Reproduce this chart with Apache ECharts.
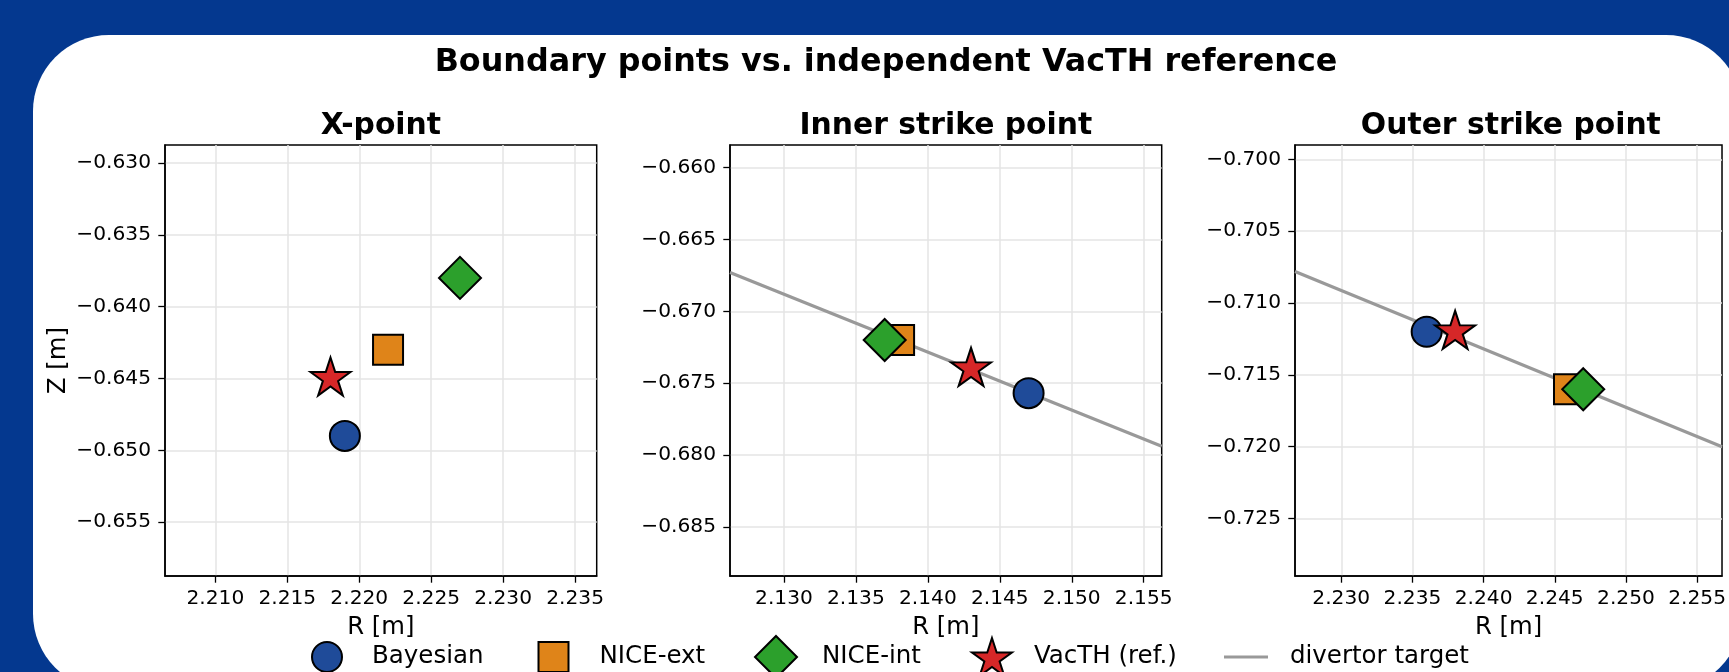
<!DOCTYPE html>
<html><head><meta charset="utf-8">
<script src="https://cdn.jsdelivr.net/npm/echarts@6/dist/echarts.min.js"></script>
<style>
html,body{margin:0;padding:0;background:#04388f;width:1729px;height:672px;overflow:hidden;}
#card{position:absolute;left:33px;top:35px;width:1709px;height:655px;background:#fff;border-radius:76px;}
#chart{position:absolute;left:0;top:0;width:1729px;height:672px;}
</style></head><body><div id="card"></div><div id="chart"></div>
<script>
// ---- data ----
const methods = ['Bayesian', 'NICE-ext', 'NICE-int', 'VacTH (ref.)'];
const panelTitles = ['X-point', 'Inner strike point', 'Outer strike point'];
const xpointR = [2.219, 2.222, 2.227, 2.218];
const xpointZ = [-0.649, -0.643, -0.638, -0.645];
const innerR = [2.147, 2.138, 2.137, 2.143];
const innerZ = [-0.6757, -0.672, -0.672, -0.674];
const outerR = [2.236, 2.246, 2.247, 2.238];
const outerZ = [-0.712, -0.716, -0.716, -0.712];
const innerTargetR = [2.12625, 2.15625];
const innerTargetZ = [-0.6673, -0.6794];
const outerTargetR = [2.22675, 2.25675];
const outerTargetZ = [-0.7078, -0.7200];
const xpointRRange = [2.2065, 2.2365];
const xpointZRange = [-0.65875, -0.62875];
const innerRRange = [2.12625, 2.15625];
const innerZRange = [-0.688425, -0.658425];
const outerRRange = [2.22675, 2.25675];
const outerZRange = [-0.729, -0.699];
const xpointRTicks = [2.210, 2.215, 2.220, 2.225, 2.230, 2.235];
const xpointZTicks = [-0.655, -0.650, -0.645, -0.640, -0.635, -0.630];
const innerRTicks = [2.130, 2.135, 2.140, 2.145, 2.150, 2.155];
const innerZTicks = [-0.685, -0.680, -0.675, -0.670, -0.665, -0.660];
const outerRTicks = [2.230, 2.235, 2.240, 2.245, 2.250, 2.255];
const outerZTicks = [-0.725, -0.720, -0.715, -0.710, -0.705, -0.700];

// ---- styles ----
const FONT = 'DejaVu Sans';
const colors = ['#1f4b99', '#df8419', '#2ca02c', '#d62728'];
const starPath = 'path://M0,-100L22.45,-30.9L95.1,-30.9L36.33,11.8L58.78,80.9L0,38.2L-58.78,80.9L-36.33,11.8L-95.1,-30.9L-22.45,-30.9Z';
const symbols = ['circle', 'rect', 'diamond', starPath];
const sizes = [30, 30, 42, [40, 38]];
const offsets = [[0, 0], [0, 0], [0, 0], [0, -1.9]];

const panels = [
  {R: xpointR, Z: xpointZ, xr: xpointRRange, yr: xpointZRange, xt: xpointRTicks, yt: xpointZTicks, tR: null, tZ: null},
  {R: innerR, Z: innerZ, xr: innerRRange, yr: innerZRange, xt: innerRTicks, yt: innerZTicks, tR: innerTargetR, tZ: innerTargetZ},
  {R: outerR, Z: outerZ, xr: outerRRange, yr: outerZRange, xt: outerRTicks, yt: outerZTicks, tR: outerTargetR, tZ: outerTargetZ}
];
const gridLefts = [165, 730, 1295];
const GW = 431.7, GT = 145, GH = 431;
const TICK_FS = 20.2, LABEL_FS = 24.3, TITLE_FS = 29.8, SUP_FS = 31.8, LEG_FS = 24.5;

const fmt = v => (v < 0 ? '\u2212' : '') + Math.abs(v).toFixed(3);

const grids = [], xAxes = [], yAxes = [], series = [], titles = [];
titles.push({text: 'Boundary points vs. independent VacTH reference', left: 886, top: 46.5, textAlign: 'center', padding: 0,
  textStyle: {fontFamily: FONT, fontSize: SUP_FS, fontWeight: 'bold', color: '#000'}});

panels.forEach((p, i) => {
  grids.push({left: gridLefts[i], top: GT, width: GW, height: GH, show: true, borderColor: '#000', borderWidth: 1.5, backgroundColor: 'transparent'});
  titles.push({text: panelTitles[i], left: gridLefts[i] + GW / 2, top: 111, textAlign: 'center', padding: 0,
    textStyle: {fontFamily: FONT, fontSize: TITLE_FS, fontWeight: 'bold', color: '#000'}});
  xAxes.push({
    type: 'value', gridIndex: i, min: p.xr[0], max: p.xr[1],
    name: 'R [m]', nameLocation: 'middle', nameGap: 40,
    nameTextStyle: {fontFamily: FONT, fontSize: LABEL_FS, color: '#000'},
    axisLine: {show: true, lineStyle: {color: '#000', width: 1.5}},
    axisTick: {show: true, inside: false, length: 6.7, lineStyle: {color: '#000', width: 1.3}, customValues: p.xt},
    axisLabel: {show: true, margin: 12.5, fontFamily: FONT, fontSize: TICK_FS, color: '#000', formatter: fmt, customValues: p.xt},
    splitLine: {show: true, lineStyle: {color: '#e4e4e4', width: 1.5}}
  });
  yAxes.push({
    type: 'value', gridIndex: i, min: p.yr[0], max: p.yr[1],
    name: i === 0 ? 'Z [m]' : '', nameLocation: 'middle', nameGap: 94, nameRotate: 90,
    nameTextStyle: {fontFamily: FONT, fontSize: LABEL_FS, color: '#000'},
    axisLine: {show: true, lineStyle: {color: '#000', width: 1.5}},
    axisTick: {show: true, inside: false, length: 6.7, lineStyle: {color: '#000', width: 1.3}, customValues: p.yt},
    axisLabel: {show: true, margin: 14, fontFamily: FONT, fontSize: TICK_FS, color: '#000', formatter: fmt, customValues: p.yt},
    splitLine: {show: true, lineStyle: {color: '#e4e4e4', width: 1.5}}
  });
  if (p.tR) {
    series.push({
      type: 'line', name: 'divertor target', xAxisIndex: i, yAxisIndex: i, z: 1, clip: true, silent: true,
      symbol: 'none', data: p.tR.map((r, k) => [r, p.tZ[k]]),
      lineStyle: {color: '#999999', width: 3.2}, itemStyle: {color: '#999999'}, animation: false
    });
  }
  methods.forEach((m, k) => {
    series.push({
      type: 'scatter', name: m, xAxisIndex: i, yAxisIndex: i, z: 2 + k,
      symbol: symbols[k], symbolSize: sizes[k], symbolOffset: offsets[k],
      data: [[p.R[k], p.Z[k]]],
      itemStyle: {color: colors[k], borderColor: '#000', borderWidth: 2, opacity: 1},
      animation: false
    });
  });
});

// legends (one per entry so each icon keeps its own size)
const legendSpec = [
  {name: methods[0], left: 311, w: 30, h: 30, pad: 25, top: 641, icon: null},
  {name: methods[1], left: 537.5, w: 30, h: 30, pad: 26, top: 641, icon: null},
  {name: methods[2], left: 754, w: 42, h: 42, pad: 20, top: 635, icon: null},
  {name: methods[3], left: 971, w: 40, h: 38, pad: 17, top: 637, icon: null},
  {name: 'divertor target', left: 1224, w: 44, h: 3.2, pad: 17, top: 644.5, icon: 'rect'}
];
const legends = legendSpec.map(s => {
  const l = {
    data: [s.name], left: s.left, top: s.top, itemWidth: s.w, itemHeight: s.h, padding: 0,
    itemGap: 0, selectedMode: false,
    textStyle: {fontFamily: FONT, fontSize: LEG_FS, color: '#000', padding: [0, 0, 0, s.pad]}
  };
  if (s.icon) { l.icon = s.icon; l.itemStyle = {color: '#999999', borderWidth: 0}; }
  return l;
});

const chart = echarts.init(document.getElementById('chart'), null, {renderer: 'canvas'});
chart.setOption({
  animation: false,
  backgroundColor: 'transparent',
  title: titles,
  legend: legends,
  grid: grids,
  xAxis: xAxes,
  yAxis: yAxes,
  series: series
});
</script></body></html>
